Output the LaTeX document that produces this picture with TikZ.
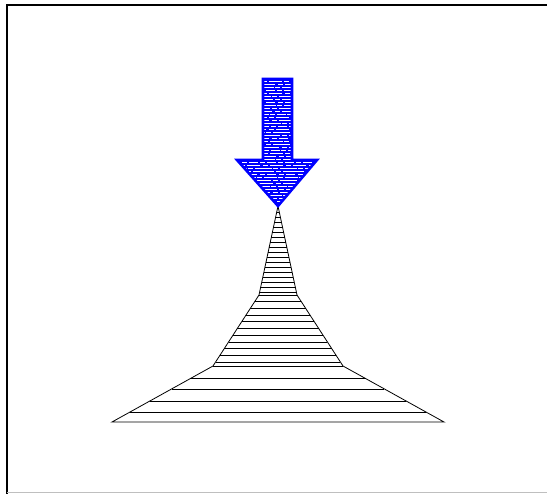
\documentclass[tikz,border=0pt]{standalone}
\usepackage{tikz}

\begin{document}
\begin{tikzpicture}[x=1pt, y=-1pt, frame/.style={black, line width=1.6pt}, tier/.style={draw=black, line width=0.8pt}, rung/.style={black, line width=0.6pt}, arr/.style={draw=blue, line width=2.6pt, line join=miter}, streak/.style={white, line width=1pt}]
	\useasboundingbox (0,0) rectangle (547,494);
	\draw[frame] (7,494) -- (7,5) -- (548,5); \draw[gray!50, line width=0.8pt] (7,492.5) -- (548,492.5);
	% tower
	\coordinate (tip) at (278,206);
	\draw[tier] (tip) -- (297,295) -- (343,366) -- (444,422) -- (112,422) -- (213,366) -- (259,295) -- cycle;
	\foreach \y in {212,217,...,292} {\pgfmathsetmacro\hw{19*(\y-206)/89} \draw[rung] ({278-\hw},\y) -- ({278+\hw},\y);}
	\foreach \y in {295,301.7,...,362} {\pgfmathsetmacro\hw{19+46*(\y-295)/71} \draw[rung] ({278-\hw},\y) -- ({278+\hw},\y);}
	\foreach \y in {366,378,389,401,412} {\pgfmathsetmacro\hw{65+101*(\y-366)/56} \draw[rung] ({278-\hw},\y) -- ({278+\hw},\y);}
	% arrow
	\begin{scope}
		\fill[blue] (263,79) -- (292,79) -- (292,160) -- (317,160) -- (278,205) -- (237,160) -- (263,160) -- cycle;
		\clip (263,79) -- (292,79) -- (292,160) -- (317,160) -- (278,205) -- (237,160) -- (263,160) -- cycle;
		\foreach \y [count=\k] in {82,85,...,203} {\pgfmathsetmacro\on{9+mod(\k,4)*4} \pgfmathsetmacro\off{1+mod(\k,3)} \pgfmathsetmacro\ph{mod(\k*7,13)}
			\draw[streak, dash pattern=on \on pt off \off pt on 5pt off 2pt, dash phase=\ph pt] (232,\y) -- (322,\y);}
	\end{scope}
	\draw[arr] (263,79) -- (292,79) -- (292,160) -- (317,160) -- (tip) -- (237,160) -- (263,160) -- cycle;
\end{tikzpicture}
\end{document}
